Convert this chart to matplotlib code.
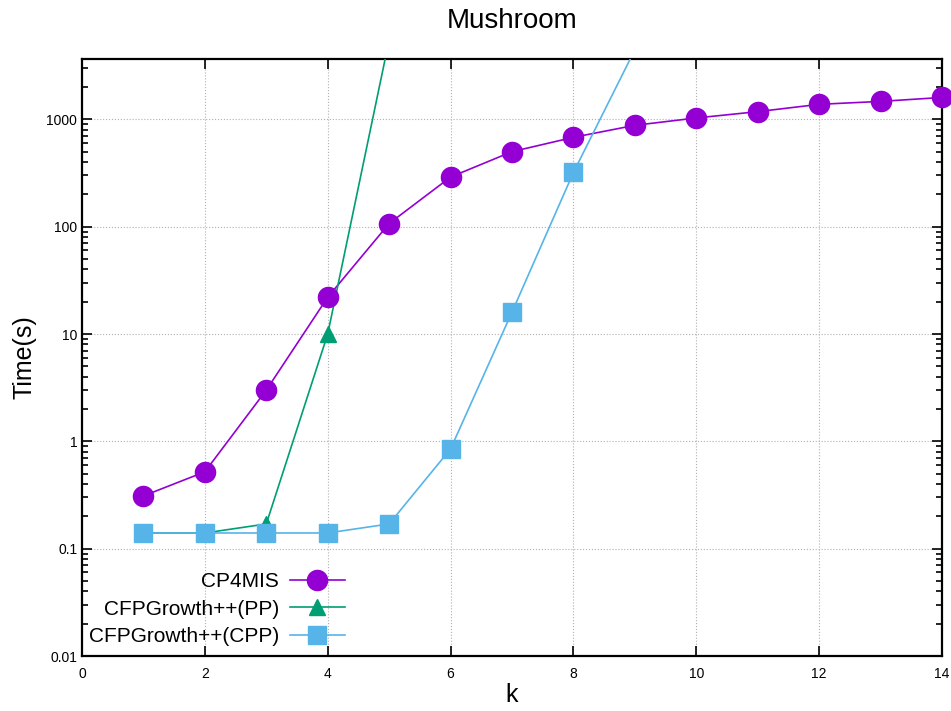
import matplotlib
matplotlib.use("Agg")
import matplotlib.pyplot as plt
from matplotlib.lines import Line2D
from matplotlib.ticker import FixedLocator, LogLocator, NullFormatter

k_cp4mis = [1, 2, 3, 4, 5, 6, 7, 8, 9, 10, 11, 12, 13, 14]
t_cp4mis = [0.31, 0.52, 3.0, 22, 107, 290, 500, 680, 880, 1030, 1180, 1380, 1470, 1600]
k_pp = [1, 2, 3, 4, 5]
t_pp = [0.14, 0.14, 0.17, 10, 5500]
k_cpp = [1, 2, 3, 4, 5, 6, 7, 8, 9]
t_cpp = [0.14, 0.14, 0.14, 0.14, 0.17, 0.85, 16, 320, 4450]

labels = ['CP4MIS', 'CFPGrowth++(PP)', 'CFPGrowth++(CPP)']
colors = ['#9400D3', '#009E73', '#56B4E9']

xticks = [0, 2, 4, 6, 8, 10, 12, 14]
yticks = [0.01, 0.1, 1, 10, 100, 1000]
ytick_labels = ["0.01", "0.1", "1", "10", "100", "1000"]

plt.rcParams['font.family'] = ['Liberation Sans', 'DejaVu Sans']

YMIN, YMAX = 0.01, 3650

fig = plt.figure(figsize=(9.51, 7.11), dpi=100)
ax = fig.add_axes([82/951, 1-656/711, (942-82)/951, (656-59)/711])

series = [(k_cp4mis, t_cp4mis, 'o', 14.5), (k_pp, t_pp, '^', 12), (k_cpp, t_cpp, 's', 13)]
handles = []
for (xs, ys, mk, ms), c, lab in zip(series, colors, labels):
    ax.plot(xs, ys, color=c, lw=1.2, zorder=3)
    inx = [x for x, y in zip(xs, ys) if YMIN <= y <= YMAX]
    iny = [y for y in ys if YMIN <= y <= YMAX]
    ax.plot(inx, iny, linestyle='none', marker=mk, markersize=ms, color=c, clip_on=False, zorder=4)
    handles.append(Line2D([], [], color=c, lw=1.2, marker=mk, markersize=ms, label=lab))

ax.set_yscale('log')
ax.set_xlim(0, 14)
ax.set_ylim(YMIN, YMAX)
ax.xaxis.set_major_locator(FixedLocator(xticks))
ax.set_xticklabels([str(x) for x in xticks], fontsize=10)
ax.yaxis.set_major_locator(FixedLocator(yticks))
ax.set_yticklabels(ytick_labels, fontsize=10)
ax.yaxis.set_minor_locator(LogLocator(base=10, subs=range(2, 10)))
ax.yaxis.set_minor_formatter(NullFormatter())

ax.tick_params(which='both', direction='in', top=True, right=True, width=1.2)
ax.tick_params(which='major', length=7)
ax.tick_params(which='minor', length=4)
ax.tick_params(axis='x', pad=8)
for s in ax.spines.values():
    s.set_linewidth(1.6)

ax.grid(True, which='major', color='#b0b0b0', linestyle=':', linewidth=0.8)

ax.set_title('Mushroom', fontsize=20, pad=22)
ax.set_xlabel('k', fontsize=18, labelpad=1)
ax.set_ylabel('Time(s)', fontsize=18, labelpad=7)

leg = fig.legend(handles=handles, loc='upper right', bbox_to_anchor=(345/951, 1-572/711),
                 bbox_transform=fig.transFigure, markerfirst=False, frameon=False,
                 fontsize=15, handlelength=2.65, labelspacing=0.42, handletextpad=0.5,
                 borderaxespad=0, borderpad=0)
leg.set_zorder(5)

fig.savefig('out.png', dpi=100)
